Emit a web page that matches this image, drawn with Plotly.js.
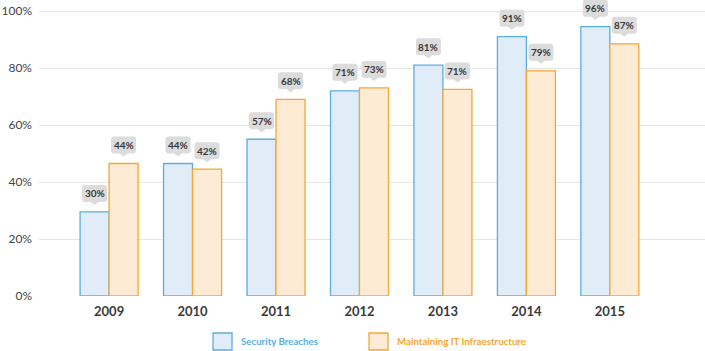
<!DOCTYPE html>
<html>
<head>
<meta charset="utf-8">
<script src="https://cdn.plot.ly/plotly-3.0.1.min.js"></script>
<style>html,body{margin:0;padding:0;background:#fff;}#chart{width:705px;height:351px;}</style>
</head>
<body>
<div id="chart"></div>
<script>
// ---- data ----
const years = ['2009', '2010', '2011', '2012', '2013', '2014', '2015'];
const securityBars = [29.5, 46.5, 55, 72, 81, 91, 94.5];
const maintainingBars = [46.5, 44.5, 69, 73, 72.5, 79, 88.5];
const securityLabels = [30, 44, 57, 71, 81, 91, 96];
const maintainingLabels = [44, 42, 68, 73, 71, 79, 87];
const seriesNames = ['Security Breaches', 'Maintaining IT Infraestructure'];
const yTicks = [0, 20, 40, 60, 80, 100];

// ---- styles ----
const FONT = 'Lato, "Open Sans", sans-serif';
const blueLine = '#5aaee0', blueFill = '#e0ecf8';
const orangeLine = '#f5a733', orangeFill = '#fdebd6';
const calloutBg = '#dcdcdc';
const BARGAP = 0.305;
const barW = (1 - BARGAP) / 2;
const PLOT_H = 296;          // plot height in px (plot top at page top)
const GRID_H = 285;          // px from 0% to 100%
const yMax = 100 * PLOT_H / GRID_H;

const idx = years.map((_, i) => i);

const traces = [
  {type: 'bar', x: idx, y: securityBars, name: seriesNames[0], showlegend: false,
   marker: {color: blueFill, line: {color: blueLine, width: 1.3}}, hoverinfo: 'skip'},
  {type: 'bar', x: idx, y: maintainingBars, name: seriesNames[1], showlegend: false,
   marker: {color: orangeFill, line: {color: orangeLine, width: 1.3}}, hoverinfo: 'skip'}
];

// callout bubble path in pixels relative to anchor (bar top); y up
const r = 3, hw = 12.5, yb = 10, yt = 27, pw = 4, tip = 7;
const calloutPath =
  `M ${-hw + r},${yb} L ${-pw},${yb} L 0,${tip} L ${pw},${yb} L ${hw - r},${yb} ` +
  `Q ${hw},${yb} ${hw},${yb + r} L ${hw},${yt - r} Q ${hw},${yt} ${hw - r},${yt} ` +
  `L ${-hw + r},${yt} Q ${-hw},${yt} ${-hw},${yt - r} L ${-hw},${yb + r} Q ${-hw},${yb} ${-hw + r},${yb} Z`;

const shapes = [];
const annotations = [];
function addCallouts(bars, labels, side) {
  bars.forEach((v, i) => {
    const xc = i + side * barW / 2;
    shapes.push({type: 'path', xref: 'x', yref: 'y', xsizemode: 'pixel', ysizemode: 'pixel',
      xanchor: xc, yanchor: v, path: calloutPath, fillcolor: calloutBg, line: {width: 0}, layer: 'above'});
    annotations.push({xref: 'x', yref: 'y', x: xc, y: v, yshift: (yb + yt) / 2, showarrow: false,
      text: labels[i] + '%', xanchor: 'center', yanchor: 'middle',
      font: {family: FONT, size: 10, color: '#383838', weight: 'bold'}});
  });
}
addCallouts(securityBars, securityLabels, -1);
addCallouts(maintainingBars, maintainingLabels, 1);

// custom legend
const legendItems = [
  {name: seriesNames[0], fill: blueFill, line: blueLine, x: 0.2613},
  {name: seriesNames[1], fill: orangeFill, line: orangeLine, x: 0.4955}
];
legendItems.forEach(it => {
  shapes.push({type: 'rect', xref: 'paper', yref: 'paper', x0: it.x, x1: it.x + 0.0285,
    y0: -0.1824, y1: -0.125, fillcolor: it.fill, line: {color: it.line, width: 1.3}});
  annotations.push({xref: 'paper', yref: 'paper', x: it.x + 0.039, y: -0.1537, xanchor: 'left', yanchor: 'middle',
    showarrow: false, text: it.name, font: {family: FONT, size: 9.7, color: it.line, weight: 'bold'}});
});

const layout = {
  width: 705, height: 351,
  margin: {l: 39, r: 0, t: 0, b: 351 - PLOT_H},
  paper_bgcolor: '#fff', plot_bgcolor: '#fff',
  barmode: 'group', bargap: BARGAP, bargroupgap: 0,
  showlegend: false,
  xaxis: {range: [-0.84, 7.14], tickvals: idx, ticktext: years, showgrid: false, zeroline: false,
    showline: false, ticks: '', ticklabelstandoff: 6,
    tickfont: {family: FONT, size: 13, color: '#3a3a3a', weight: 'bold'}, fixedrange: true},
  yaxis: {range: [0, yMax], tickvals: yTicks, ticktext: yTicks.map(v => v + '%'), showgrid: true,
    gridcolor: '#e6e6e6', gridwidth: 1, zeroline: false, showline: false, ticks: '', ticklabelstandoff: 6,
    tickfont: {family: FONT, size: 12, color: '#444'}, fixedrange: true},
  shapes: shapes,
  annotations: annotations,
  font: {family: FONT}
};

Plotly.newPlot('chart', traces, layout, {displayModeBar: false, staticPlot: true});
</script>
</body>
</html>
